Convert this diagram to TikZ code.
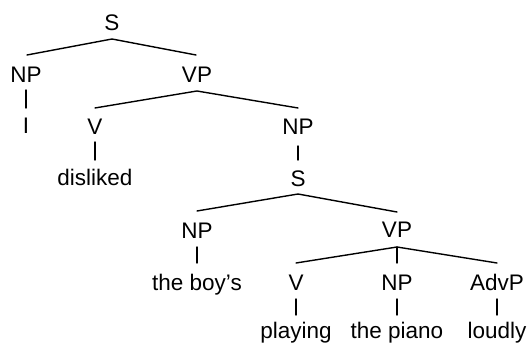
\documentclass[tikz,border=0pt]{standalone}
\usepackage{fontspec}
\setmainfont{Liberation Sans}
\begin{document}
\begin{tikzpicture}[x=1pt,y=-1pt,
  lab/.style={anchor=base,inner sep=0pt,font=\fontsize{22.5}{27}\selectfont},
  edge/.style={line width=1.4pt,line cap=round}]
\useasboundingbox (0,0) rectangle (529,347);
% labels
\node[lab] (S0) at (112,30.5) {S};
\node[lab] (NP1) at (26,83) {NP};
\node[lab] (VP1) at (197,83) {VP};
\node[lab] (I) at (26,133.5) {I};
\node[lab] (V1) at (95,135) {V};
\node[lab] (NP2) at (298,134.5) {NP};
\node[lab] (dis) at (95,185.5) {disliked};
\node[lab] (S2) at (298,186) {S};
\node[lab] (NP3) at (197,238) {NP};
\node[lab] (VP3) at (397,237.5) {VP};
\node[lab] (boy) at (197,290) {the boy’s};
\node[lab] (V3) at (296,290.5) {V};
\node[lab] (NP4) at (397,290.5) {NP};
\node[lab] (Adv) at (497,290.5) {AdvP};
\node[lab] (play) at (296,338) {playing};
\node[lab] (pia) at (397,338) {the piano};
\node[lab] (loud) at (497,338) {loudly};
% connectors
\draw[edge] ([yshift=28pt,xshift=1pt]NP1.base) -- ([yshift=-8.5pt]S0.base) -- ([yshift=28pt,xshift=-1pt]VP1.base);
\draw[edge] ([yshift=-7pt]NP1.base) -- ([yshift=25.5pt]I.base);
\draw[edge] ([yshift=27pt]V1.base) -- ([yshift=-8pt]VP1.base) -- ([yshift=26.5pt]NP2.base);
\draw[edge] ([yshift=-7pt]V1.base) -- ([yshift=25.5pt]dis.base);
\draw[edge] ([yshift=-11.5pt]NP2.base) -- ([yshift=26pt]S2.base);
\draw[edge] ([yshift=27pt]NP3.base) -- ([yshift=-8pt]S2.base) -- ([yshift=25.5pt]VP3.base);
\draw[edge] ([yshift=-9pt]NP3.base) -- ([yshift=27pt]boy.base);
\draw[edge] ([yshift=27.5pt]V3.base) -- ([yshift=-9.5pt]VP3.base) -- ([yshift=27.5pt]Adv.base);
\draw[edge] ([yshift=-9.5pt]VP3.base) -- ([yshift=27.5pt]NP4.base);
\draw[edge] ([yshift=-8.5pt]V3.base) -- ([yshift=23pt]play.base);
\draw[edge] ([yshift=-8.5pt]NP4.base) -- ([yshift=23pt]pia.base);
\draw[edge] ([yshift=-8.5pt]Adv.base) -- ([yshift=23pt]loud.base);
\end{tikzpicture}
\end{document}
